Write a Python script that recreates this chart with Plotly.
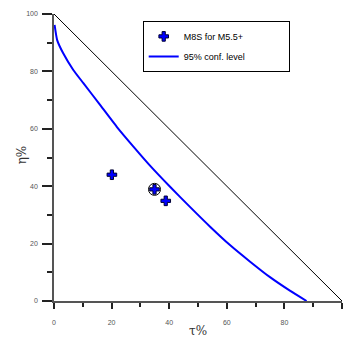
import plotly.graph_objects as go

# Data
pts_tau = [20.1, 34.9, 38.8]
pts_eta = [44.0, 38.9, 34.9]

circled_tau = [34.9]
circled_eta = [38.9]

curve_tau = [0.2, 1.1, 3.2, 6.7, 10.2, 15.8, 21.8, 27.5, 33.5, 40.3, 47.2,
             54.2, 61.1, 68.1, 75.0, 81.9, 87.7]
curve_eta = [96.2, 90.9, 86.3, 80.5, 75.9, 68.6, 60.7, 53.9, 47.0, 39.8, 32.8,
             25.9, 19.5, 13.7, 8.3, 3.6, 0.0]

diag_tau = [0, 100]
diag_eta = [100, 0]

legend_names = ["M8S for M5.5+", "95% conf. level"]

fig = go.Figure()

fig.add_trace(go.Scatter(x=diag_tau, y=diag_eta, mode="lines",
                         line=dict(color="black", width=1), showlegend=False,
                         hoverinfo="skip"))
fig.add_trace(go.Scatter(x=pts_tau, y=pts_eta, mode="markers",
                         name=legend_names[0] + "\u00a0" * 16,
                         marker=dict(symbol="cross", size=8, color="#0000ff",
                                     line=dict(color="#000033", width=1)),
                         legendgroup="a"))
fig.add_trace(go.Scatter(x=circled_tau, y=circled_eta, mode="markers", showlegend=False,
                         marker=dict(symbol="circle-open", size=12, color="black",
                                     line=dict(color="black", width=1))))
fig.add_trace(go.Scatter(x=curve_tau, y=curve_eta, mode="lines", name=legend_names[1],
                         line=dict(color="#0000ff", width=2, shape="spline", smoothing=0.5),
                         legendgroup="b"))

axis_common = dict(
    showgrid=False, zeroline=False, showline=True, linecolor="#555555", linewidth=1.5,
    ticks="outside", tickcolor="#222222", tickwidth=1.5,
    tickfont=dict(family="Liberation Sans, Arial", size=7, color="#555555"),
    range=[0, 100], dtick=20, tick0=0,
)

fig.update_layout(
    width=343, height=338,
    margin=dict(l=54, r=1, t=14, b=37),
    paper_bgcolor="white", plot_bgcolor="white",
    xaxis=dict(**axis_common, ticklen=6, ticklabelstandoff=8,
               minor=dict(dtick=10, ticklen=4, tickcolor="#222222", tickwidth=1.5, ticks="outside")),
    yaxis=dict(**axis_common, ticklen=10, ticklabelstandoff=3,
               minor=dict(dtick=10, ticklen=5, tickcolor="#222222", tickwidth=1.5, ticks="outside")),
    legend=dict(x=0.308, y=0.976, xanchor="left", yanchor="top",
                bgcolor="white", bordercolor="black", borderwidth=1,
                font=dict(family="Liberation Sans, Arial", size=9, color="black"),
                tracegroupgap=1),
    showlegend=True,
)

fig.add_annotation(x=0.5, y=-0.104, xref="paper", yref="paper", text="τ%",
                   showarrow=False, yanchor="middle",
                   font=dict(family="DejaVu Serif, serif", size=12, color="#333333"))
fig.add_annotation(x=-0.112, y=0.51, xref="paper", yref="paper", text="η%",
                   showarrow=False, textangle=-90, xanchor="center",
                   font=dict(family="DejaVu Serif, serif", size=12, color="#333333"))

fig.write_html("out.html", config={"displayModeBar": False},
               post_script="document.body.style.margin='0';document.body.style.overflow='hidden';")
